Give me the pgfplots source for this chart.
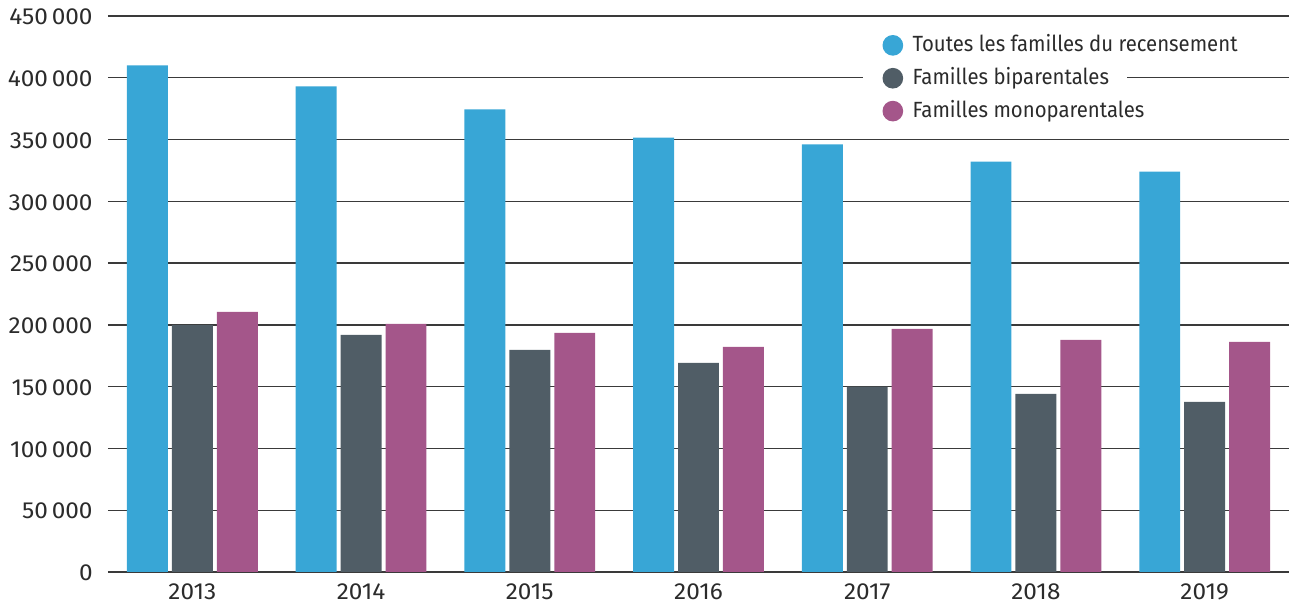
\documentclass[border=0pt]{standalone}
\usepackage{pgfplots}
\usepackage{pgfplotstable}
\pgfplotsset{compat=1.18}
\usepackage{fontspec}
\setmainfont{Fira Sans}
\newfontfamily\legfont[FakeStretch=0.925]{Fira Sans}
\newfontfamily\tickfont[FakeStretch=1.05]{Fira Sans}
\definecolor{cblue}{HTML}{38A6D6}
\definecolor{cgray}{HTML}{505D66}
\definecolor{cpurple}{HTML}{A4568A}
\definecolor{ctext}{HTML}{2B2B2B}
\definecolor{cgrid}{HTML}{3A3A3A}
\pgfplotstableread{
x blue gray purple
0 410000 200000 210500
1 393000 192000 200800
2 374400 179800 193600
3 351600 169300 182300
4 346000 150000 196800
5 332100 144100 187900
6 324100 137600 186200
}\datatable
\pgfplotsset{circlegend/.style={legend image code/.code={\fill[##1] (5.17pt,0pt) circle (5.17pt);}}}
\begin{document}
\begin{tikzpicture}
\path[use as bounding box] (-54pt,-16pt) rectangle (590.5pt,286pt);
\begin{axis}[
  at={(0,0)}, anchor=south west,
  scale only axis, width=590.5pt, height=278pt,
  ybar, bar width=0.2426,
  xmin=-0.5, xmax=6.5, ymin=0, ymax=450000,
  xtick={0,1,2,3,4,5,6},
  xticklabels={2013,2014,2015,2016,2017,2018,2019},
  ytick={0,50000,100000,150000,200000,250000,300000,350000,400000,450000},
  yticklabels={0,50\,000,100\,000,150\,000,200\,000,250\,000,300\,000,350\,000,400\,000,450\,000},
  ymajorgrids,
  grid style={cgrid, line width=0.7pt},
  major tick length=0pt,
  axis line style={draw=none},
  tick label style={font=\tickfont\fontsize{11.6}{13}\selectfont, text=ctext},
  yticklabel style={inner xsep=0pt, inner ysep=1pt, xshift=-7.5pt, yshift=-0.5pt},
  xticklabel style={anchor=base, inner sep=0pt, yshift=-13.8pt},
  legend style={draw=none, fill=none, inner sep=0pt, outer sep=0pt,
    at={(axis description cs:0.6558,0.9658)}, anchor=north west,
    font=\legfont\fontsize{11}{13}\selectfont, text=ctext,
    nodes={inner sep=0pt, outer sep=0pt},
    row sep=6.1pt,
    /tikz/every odd column/.append style={column sep=4.75pt},
    /tikz/every even column/.append style={text height=7.6pt, text depth=1pt},
  },
  legend cell align=left,
]
\addplot[fill=cblue, draw=none, bar shift=-0.2663, circlegend] table[x=x,y=blue]{\datatable};
\addplot[fill=cgray, draw=none, bar shift=0, circlegend] table[x=x,y=gray]{\datatable};
\addplot[fill=cpurple, draw=none, bar shift=0.2663, circlegend] table[x=x,y=purple]{\datatable};
\fill[white] (axis description cs:0.6393,0.8777) rectangle (axis description cs:0.8628,0.8993);
\legend{Toutes les familles du recensement, Familles biparentales, Familles monoparentales}
\end{axis}
\end{tikzpicture}
\end{document}
